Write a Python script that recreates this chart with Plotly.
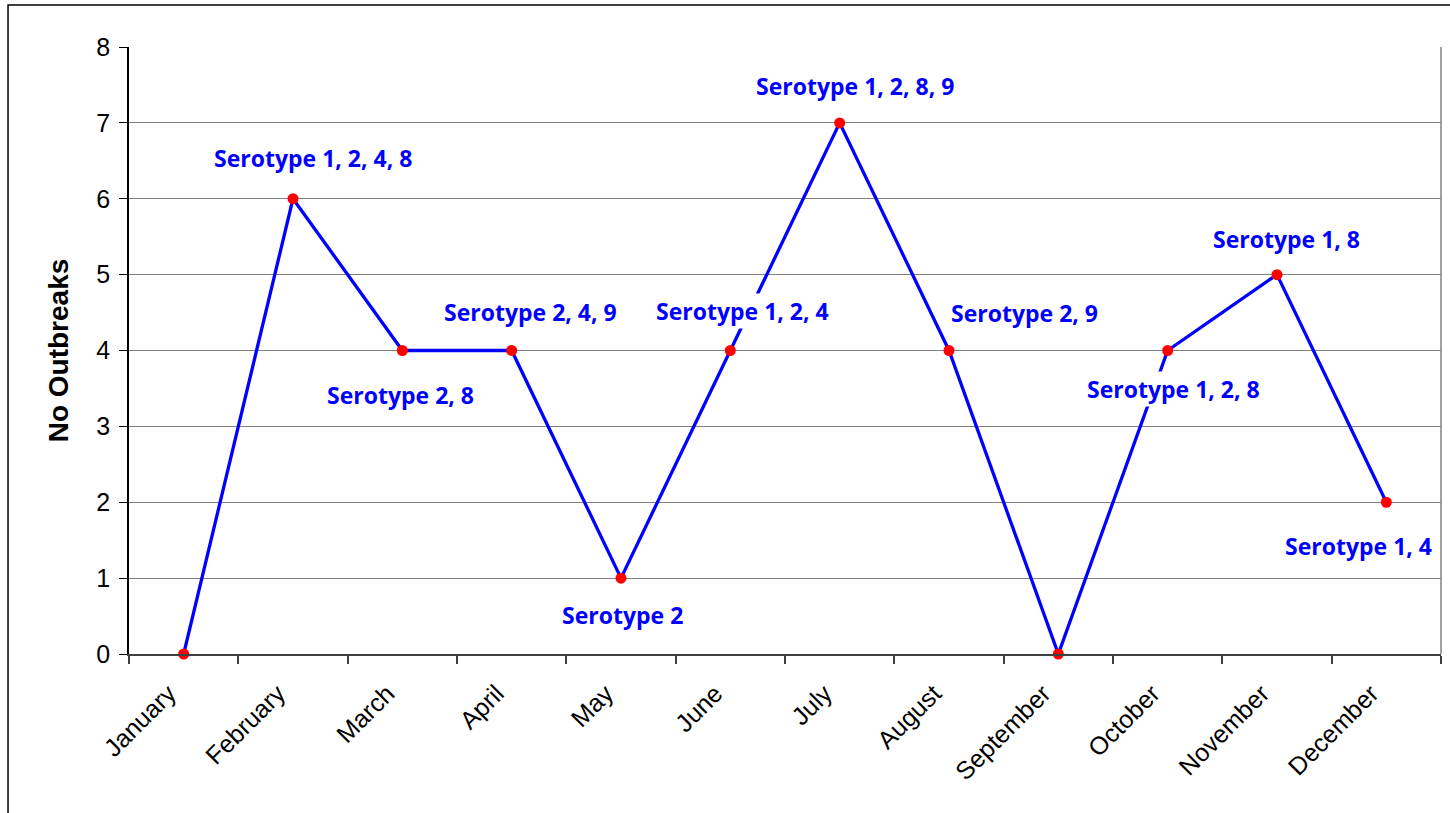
import plotly.graph_objects as go

months = ["January", "February", "March", "April", "May", "June", "July",
          "August", "September", "October", "November", "December"]
outbreaks = [0, 6, 4, 4, 1, 4, 7, 4, 0, 4, 5, 2]
labels = ["", "Serotype 1, 2, 4, 8", "Serotype 2, 8", "Serotype 2, 4, 9", "Serotype 2",
          "Serotype 1, 2, 4", "Serotype 1, 2, 8, 9", "Serotype 2, 9", "",
          "Serotype 1, 2, 8", "Serotype 1, 8", "Serotype 1, 4"]
label_xshift = [0, 20, -2, 19, 1, 12, 15, 75, 0, 6, 9, -28]
label_yshift = [0, 41, -44, 39, -37, 40, 37, 38, 0, -38, 36, -44]

fig = go.Figure()
fig.add_trace(go.Scatter(
    x=months, y=outbreaks, mode="lines+markers",
    line=dict(color="#0000FF", width=3.3),
    marker=dict(color="#FF0000", size=11),
    showlegend=False, cliponaxis=False,
))

for m, v, t, dx, dy in zip(months, outbreaks, labels, label_xshift, label_yshift):
    if not t:
        continue
    fig.add_annotation(
        x=m, y=v, xref="x", yref="y", text="<b>" + t + "</b>", showarrow=False,
        xshift=dx, yshift=dy, bgcolor="white", borderpad=1,
        font=dict(family="Open Sans", size=23, color="#0000FF"),
    )

# outer chart frame
fig.add_shape(type="rect", xref="paper", yref="paper",
              x0=-0.0922, x1=1.2, y0=-0.6, y1=1.0692,
              line=dict(color="black", width=1.5), layer="below")

fig.update_layout(
    width=1450, height=813,
    margin=dict(l=129, r=9, t=47, b=159),
    paper_bgcolor="white", plot_bgcolor="white",
    font=dict(family="Liberation Sans, Arial", color="black"),
    xaxis=dict(
        type="category", tickson="boundaries", ticks="outside", ticklen=8,
        tickcolor="#404040", tickwidth=1.5,
        showline=True, linecolor="#404040", linewidth=2,
        mirror=False, showgrid=False, tickangle=-45,
        tickfont=dict(size=25, family="Liberation Sans, Arial"),
        ticklabelstandoff=13, ticklabelshift=-15,
        range=[-0.5, 11.5],
    ),
    yaxis=dict(
        range=[0, 8], dtick=1, ticks="outside", ticklen=8, tickcolor="black",
        showline=True, linecolor="black", linewidth=1.5,
        showgrid=True, gridcolor="#808080", gridwidth=1,
        zeroline=False,
        tickfont=dict(size=25, family="Liberation Sans, Arial"),
        ticklabelstandoff=4,
        title=dict(text="<b>No Outbreaks</b>", font=dict(size=28, family="Liberation Sans, Arial"),
                   standoff=20),
    ),
)
# right border of plot area
fig.add_shape(type="line", xref="paper", yref="paper", x0=1, x1=1, y0=0, y1=1,
              line=dict(color="#808080", width=1.5))

fig.write_html("out.html", config={"displayModeBar": False},
               post_script="document.body.style.margin='0px';document.body.style.overflow='hidden';")
